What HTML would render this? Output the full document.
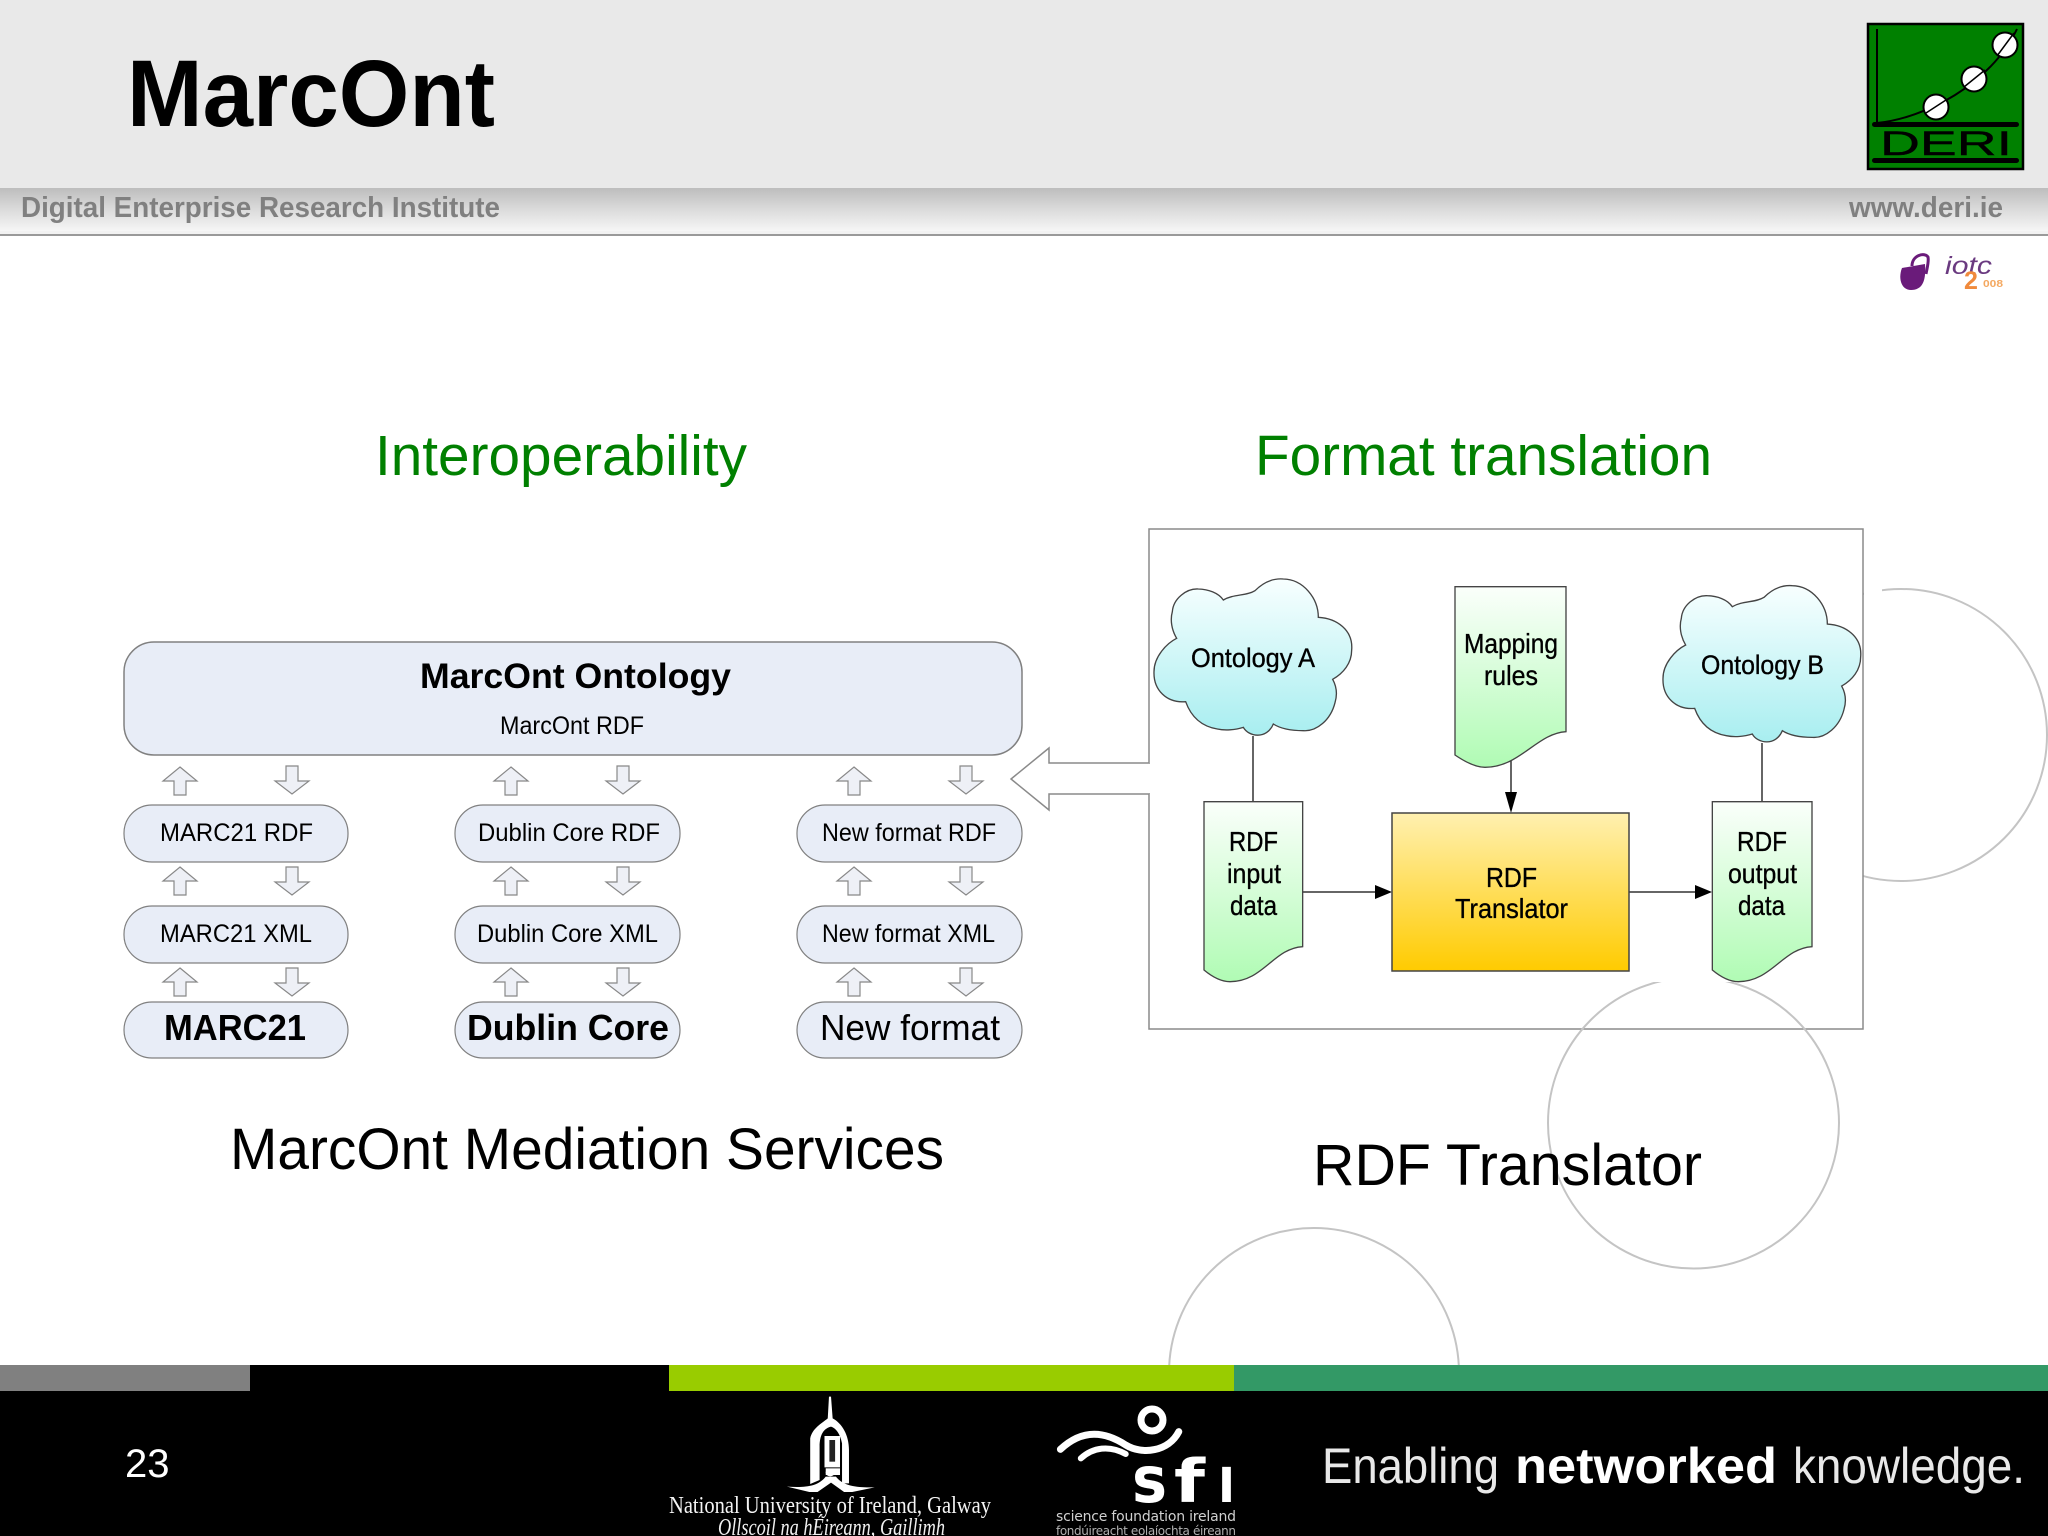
<!DOCTYPE html>
<html lang="en">
<head>
<meta charset="utf-8">
<title>MarcOnt</title>
<style>
html,body{margin:0;padding:0;background:#fff;width:2048px;height:1536px;overflow:hidden}
svg{display:block}
text{font-family:"Liberation Sans",Arial,sans-serif}
.serif{font-family:"Liberation Serif",serif}
.dj{font-family:"DejaVu Sans",sans-serif}
.h text,text.h{stroke:#000;stroke-width:.35}
</style>
</head>
<body>
<svg xmlns="http://www.w3.org/2000/svg" width="2048" height="1536" viewBox="0 0 2048 1536">
<defs>
<linearGradient id="band" x1="0" y1="0" x2="0" y2="1">
<stop offset="0" stop-color="#bdbdbd"/><stop offset="0.45" stop-color="#d8d8d8"/><stop offset="1" stop-color="#f6f6f6"/>
</linearGradient>
<linearGradient id="cloud" x1="0" y1="0" x2="0" y2="1">
<stop offset="0" stop-color="#f8ffff"/><stop offset="1" stop-color="#a8eef0"/>
</linearGradient>
<linearGradient id="doc" x1="0" y1="0" x2="0" y2="1">
<stop offset="0" stop-color="#fbfffb"/><stop offset="1" stop-color="#b0fbb4"/>
</linearGradient>
<linearGradient id="tr" x1="0" y1="0" x2="0" y2="1">
<stop offset="0" stop-color="#fff0b0"/><stop offset="1" stop-color="#ffcb00"/>
</linearGradient>
<polygon id="up" points="0,0 17,14 6,14 6,28 -6,28 -6,14 -17,14" fill="#eef0f6" stroke="#888" stroke-width="1.2"/>
<polygon id="dn" points="-6,0 6,0 6,15 17,15 0,28 -17,15 -6,15" fill="#eef0f6" stroke="#888" stroke-width="1.2"/>
<path id="cl" d="M97,275 C100,235 140,205 175,207 C205,208 235,218 250,240 C280,222 320,228 345,212 C375,182 405,175 430,177 C490,178 535,235 535,292 C590,295 640,330 635,390 C635,430 610,460 578,478 C590,500 592,525 585,548 C572,600 530,635 490,632 C450,632 420,625 400,612 C380,660 325,650 310,622 C285,630 255,632 232,627 C190,620 155,595 137,545 C80,550 40,510 42,455 C42,410 80,370 110,355 C95,330 90,300 97,275 Z" fill="url(#cloud)" stroke="#444" stroke-width="4"/>
<clipPath id="c2"><rect x="1500" y="982" width="400" height="320"/></clipPath>
</defs>

<!-- background circles -->
<circle cx="1901" cy="735" r="146" fill="none" stroke="#c4c4c4" stroke-width="2"/>
<circle cx="1314" cy="1373" r="145" fill="none" stroke="#c4c4c4" stroke-width="2"/>

<!-- header -->
<rect x="0" y="0" width="2048" height="188" fill="#e9e9e9"/>
<rect x="0" y="188" width="2048" height="43" fill="url(#band)"/>
<rect x="0" y="231" width="2048" height="3" fill="#f2f2f2"/>
<rect x="0" y="234" width="2048" height="2" fill="#9a9a9a"/>
<text x="127" y="126" font-size="95" font-weight="700" fill="#000" textLength="368" lengthAdjust="spacingAndGlyphs">MarcOnt</text>
<text x="21" y="217" font-size="29" font-weight="700" fill="#808080" textLength="479" lengthAdjust="spacingAndGlyphs">Digital Enterprise Research Institute</text>
<text x="1849" y="217" font-size="29" font-weight="700" fill="#808080" textLength="154" lengthAdjust="spacingAndGlyphs">www.deri.ie</text>

<!-- DERI logo -->
<rect x="1868" y="24" width="155" height="145" fill="#008000" stroke="#000" stroke-width="2.5"/>
<path d="M1877,29 V123" stroke="#000" stroke-width="2" fill="none"/>
<path d="M1877,123 C1925,118 1990,85 2017,29" stroke="#000" stroke-width="2" fill="none"/>
<circle cx="1936" cy="107" r="12.5" fill="#fff" stroke="#000" stroke-width="2"/>
<circle cx="1974" cy="79" r="12.5" fill="#fff" stroke="#000" stroke-width="2"/>
<circle cx="2005" cy="45" r="12.5" fill="#fff" stroke="#000" stroke-width="2"/>
<path d="M1926,113 L1946,100 M1964,87 L1985,70 M1997,56 L2014,33" stroke="#000" stroke-width="1.5" fill="none"/>
<rect x="1872" y="122" width="147" height="5" rx="2.5" fill="#000"/>
<rect x="1872" y="158" width="147" height="5" rx="2.5" fill="#000"/>
<text x="1880" y="155" font-size="34" fill="#000" stroke="#000" stroke-width=".4" textLength="132" lengthAdjust="spacingAndGlyphs">DERI</text>

<!-- iotc logo -->
<path d="M1912,266 C1912,255 1925,252 1928,257 C1929,262 1927,268 1926,274" fill="none" stroke="#6a1b7a" stroke-width="3"/>
<path d="M1902,268 L1925,264 C1926,278 1924,290 1911,290 C1901,290 1898,278 1902,268 Z" fill="#6a1b7a"/>
<text x="1945" y="274" font-size="25" font-style="italic" fill="#6a3a80" textLength="47" lengthAdjust="spacingAndGlyphs">iotc</text>
<text x="1964" y="289" font-size="25" font-weight="700" fill="#f08a3c">2</text>
<text x="1983" y="287" font-size="10" font-weight="700" fill="#f4a860" textLength="20" lengthAdjust="spacingAndGlyphs">008</text>

<!-- headings -->
<text x="375" y="475" font-size="57" fill="#008000" textLength="372" lengthAdjust="spacingAndGlyphs">Interoperability</text>
<text x="1255" y="475" font-size="57" fill="#008000" textLength="457" lengthAdjust="spacingAndGlyphs">Format translation</text>

<!-- left diagram -->
<rect x="124" y="642" width="898" height="113" rx="30" fill="#e8edf7" stroke="#808080" stroke-width="1.5"/>
<text x="420" y="688" font-size="35" font-weight="700" fill="#000" textLength="311" lengthAdjust="spacingAndGlyphs">MarcOnt Ontology</text>
<text x="500" y="734" font-size="25" fill="#000" textLength="144" lengthAdjust="spacingAndGlyphs">MarcOnt RDF</text>

<g fill="#e8edf7" stroke="#808080" stroke-width="1.2">
<rect x="124" y="805" width="224" height="57" rx="28"/>
<rect x="124" y="906" width="224" height="57" rx="28"/>
<rect x="124" y="1002" width="224" height="56" rx="28"/>
<rect x="455" y="805" width="225" height="57" rx="28"/>
<rect x="455" y="906" width="225" height="57" rx="28"/>
<rect x="455" y="1002" width="225" height="56" rx="28"/>
<rect x="797" y="805" width="225" height="57" rx="28"/>
<rect x="797" y="906" width="225" height="57" rx="28"/>
<rect x="797" y="1002" width="225" height="56" rx="28"/>
</g>
<g fill="#000">
<text x="160" y="841" font-size="25" textLength="153" lengthAdjust="spacingAndGlyphs">MARC21 RDF</text>
<text x="160" y="942" font-size="25" textLength="152" lengthAdjust="spacingAndGlyphs">MARC21 XML</text>
<text x="164" y="1040" font-size="36" font-weight="700" textLength="142" lengthAdjust="spacingAndGlyphs">MARC21</text>
<text x="478" y="841" font-size="25" textLength="182" lengthAdjust="spacingAndGlyphs">Dublin Core RDF</text>
<text x="477" y="942" font-size="25" textLength="181" lengthAdjust="spacingAndGlyphs">Dublin Core XML</text>
<text x="467" y="1040" font-size="36" font-weight="700" textLength="202" lengthAdjust="spacingAndGlyphs">Dublin Core</text>
<text x="822" y="841" font-size="25" textLength="174" lengthAdjust="spacingAndGlyphs">New format RDF</text>
<text x="822" y="942" font-size="25" textLength="173" lengthAdjust="spacingAndGlyphs">New format XML</text>
<text x="820" y="1040" font-size="36" textLength="180" lengthAdjust="spacingAndGlyphs">New format</text>
</g>

<use href="#up" x="180" y="767"/><use href="#dn" x="292" y="766"/>
<use href="#up" x="180" y="867"/><use href="#dn" x="292" y="867"/>
<use href="#up" x="180" y="968"/><use href="#dn" x="292" y="968"/>
<use href="#up" x="511" y="767"/><use href="#dn" x="623" y="766"/>
<use href="#up" x="511" y="867"/><use href="#dn" x="623" y="867"/>
<use href="#up" x="511" y="968"/><use href="#dn" x="623" y="968"/>
<use href="#up" x="854" y="767"/><use href="#dn" x="966" y="766"/>
<use href="#up" x="854" y="867"/><use href="#dn" x="966" y="867"/>
<use href="#up" x="854" y="968"/><use href="#dn" x="966" y="968"/>

<!-- right frame -->
<rect x="1149" y="529" width="714" height="500" fill="#fff" stroke="#8a8a8a" stroke-width="1.5"/>
<rect x="1148" y="764" width="3" height="29" fill="#fff"/>
<polyline points="1149,763 1049,763 1049,748 1011,779 1049,810 1049,794 1149,794" fill="#fff" stroke="#8a8a8a" stroke-width="1.5"/>
<rect x="1864" y="582" width="18" height="18" fill="#fff"/>

<!-- connectors -->
<g stroke="#333" stroke-width="1.5" fill="none">
<path d="M1253,736 V802"/>
<path d="M1762,743 V802"/>
<path d="M1511,757 V795"/>
<path d="M1303,892 H1376"/>
<path d="M1629,892 H1696"/>
</g>
<polygon points="1392,892 1375,885 1375,899" fill="#000"/>
<polygon points="1712,892 1695,885 1695,899" fill="#000"/>
<polygon points="1511,813 1505,792 1517,792" fill="#000"/>

<!-- clouds -->
<g transform="translate(1140,520) scale(0.33333)"><use href="#cl"/></g>
<g transform="translate(1649,526.7) scale(0.33333)"><use href="#cl"/></g>
<text class="h" x="1191" y="667" font-size="27" fill="#000" textLength="124" lengthAdjust="spacingAndGlyphs">Ontology A</text>
<text class="h" x="1701" y="674" font-size="27" fill="#000" textLength="123" lengthAdjust="spacingAndGlyphs">Ontology B</text>

<!-- documents -->
<g stroke="#444" stroke-width="4" fill="url(#doc)">
<path transform="translate(1140,520) scale(0.33333)" d="M192,845 H488 V1280 C400,1285 370,1385 270,1385 C240,1385 210,1365 192,1350 Z"/>
<path transform="translate(1140,520) scale(0.33333)" d="M945,200 H1278 V635 C1190,640 1140,742 1035,742 C1005,742 970,722 945,705 Z"/>
<path transform="translate(1600,520) scale(0.33333)" d="M337,845 H636 V1280 C548,1285 515,1385 415,1385 C385,1385 355,1365 337,1350 Z"/>
</g>

<!-- translator -->
<rect x="1392" y="813" width="237" height="158" fill="url(#tr)" stroke="#444" stroke-width="1.5"/>

<g class="h" fill="#000" font-size="28">
<text x="1464" y="653" textLength="94" lengthAdjust="spacingAndGlyphs">Mapping</text>
<text x="1484" y="685" textLength="54" lengthAdjust="spacingAndGlyphs">rules</text>
<text x="1229" y="851" textLength="49" lengthAdjust="spacingAndGlyphs">RDF</text>
<text x="1227" y="883" textLength="54" lengthAdjust="spacingAndGlyphs">input</text>
<text x="1230" y="915" textLength="47" lengthAdjust="spacingAndGlyphs">data</text>
<text x="1737" y="851" textLength="50" lengthAdjust="spacingAndGlyphs">RDF</text>
<text x="1728" y="883" textLength="69" lengthAdjust="spacingAndGlyphs">output</text>
<text x="1738" y="915" textLength="47" lengthAdjust="spacingAndGlyphs">data</text>
<text x="1486" y="887" textLength="51" lengthAdjust="spacingAndGlyphs">RDF</text>
<text x="1455" y="918" textLength="113" lengthAdjust="spacingAndGlyphs">Translator</text>
</g>

<!-- circle over frame -->
<circle cx="1693.5" cy="1123" r="145.5" fill="none" stroke="#c4c4c4" stroke-width="2" clip-path="url(#c2)"/>

<!-- captions -->
<text x="230" y="1169" font-size="58" fill="#000" textLength="714" lengthAdjust="spacingAndGlyphs">MarcOnt Mediation Services</text>
<text x="1313" y="1185" font-size="58" fill="#000" textLength="389" lengthAdjust="spacingAndGlyphs">RDF Translator</text>

<!-- footer -->
<rect x="0" y="1365" width="2048" height="171" fill="#000"/>
<rect x="0" y="1365" width="250" height="26" fill="#808080"/>
<rect x="669" y="1365" width="565" height="26" fill="#99cc00"/>
<rect x="1234" y="1365" width="814" height="26" fill="#339966"/>
<text x="125" y="1477" font-size="40" fill="#fff">23</text>

<!-- NUIG -->
<g transform="translate(640,1360) scale(0.40816,0.33333)" fill="#fff">
<path d="M463,110 H468 L472,175 C495,190 512,225 512,270 V370 H495 V250 C490,220 480,205 468,200 C450,205 440,225 440,260 V360 L417,372 V235 C422,205 445,190 460,175 Z"/>
<path d="M452,228 H490 V322 H452 Z"/>
<path d="M455,325 H490 V345 H455 Z"/>
<path d="M360,380 C400,383 435,382 455,350 H480 C500,382 540,383 575,382 L520,396 H500 L468,368 L435,396 H415 Z"/>
<circle cx="466" cy="338" r="11"/>
<path d="M464,240 H478 V305 H464 Z" fill="#222"/>
</g>
<text class="serif" x="669" y="1513" font-size="24" fill="#f4f4f4" textLength="322" lengthAdjust="spacingAndGlyphs">National University of Ireland, Galway</text>
<text class="serif" x="718" y="1535" font-size="24" font-style="italic" fill="#f0f0f0" textLength="227" lengthAdjust="spacingAndGlyphs">Ollscoil na hÉireann, Gaillimh</text>

<!-- SFI -->
<circle cx="1152" cy="1420" r="11" fill="none" stroke="#fff" stroke-width="7"/>
<g transform="translate(640,1360) scale(0.40816,0.33333)" fill="none" stroke="#fff" stroke-linecap="round">
<path vector-effect="non-scaling-stroke" stroke-width="7" d="M1030,268 C1085,205 1140,215 1190,255 C1230,285 1295,275 1320,215"/>
<path vector-effect="non-scaling-stroke" stroke-width="6" d="M1080,295 C1110,262 1150,255 1190,282"/>
</g>
<text class="dj" x="1132" y="1502" font-size="64" font-weight="700" fill="#fff" textLength="35" lengthAdjust="spacingAndGlyphs">s</text>
<text class="dj" x="1174" y="1502" font-size="60" font-weight="700" fill="#fff" textLength="31" lengthAdjust="spacingAndGlyphs">f</text>
<text class="dj" x="1218" y="1502" font-size="64" font-weight="700" fill="#fff" textLength="17" lengthAdjust="spacingAndGlyphs">ı</text>
<text class="dj" x="1056" y="1521" font-size="14" fill="#d0d0d0" textLength="180" lengthAdjust="spacing">science foundation ireland</text>
<text class="dj" x="1056" y="1535" font-size="12" fill="#b0b0b0" textLength="180" lengthAdjust="spacing">fondúireacht eolaíochta éireann</text>

<!-- tagline -->
<text x="1322" y="1483" font-size="50" fill="#e8e8e8" textLength="177" lengthAdjust="spacingAndGlyphs">Enabling</text>
<text x="1515" y="1483" font-size="50" font-weight="700" fill="#fff" textLength="262" lengthAdjust="spacingAndGlyphs">networked</text>
<text x="1793" y="1483" font-size="50" fill="#e8e8e8" textLength="232" lengthAdjust="spacingAndGlyphs">knowledge.</text>
</svg>
</body>
</html>
